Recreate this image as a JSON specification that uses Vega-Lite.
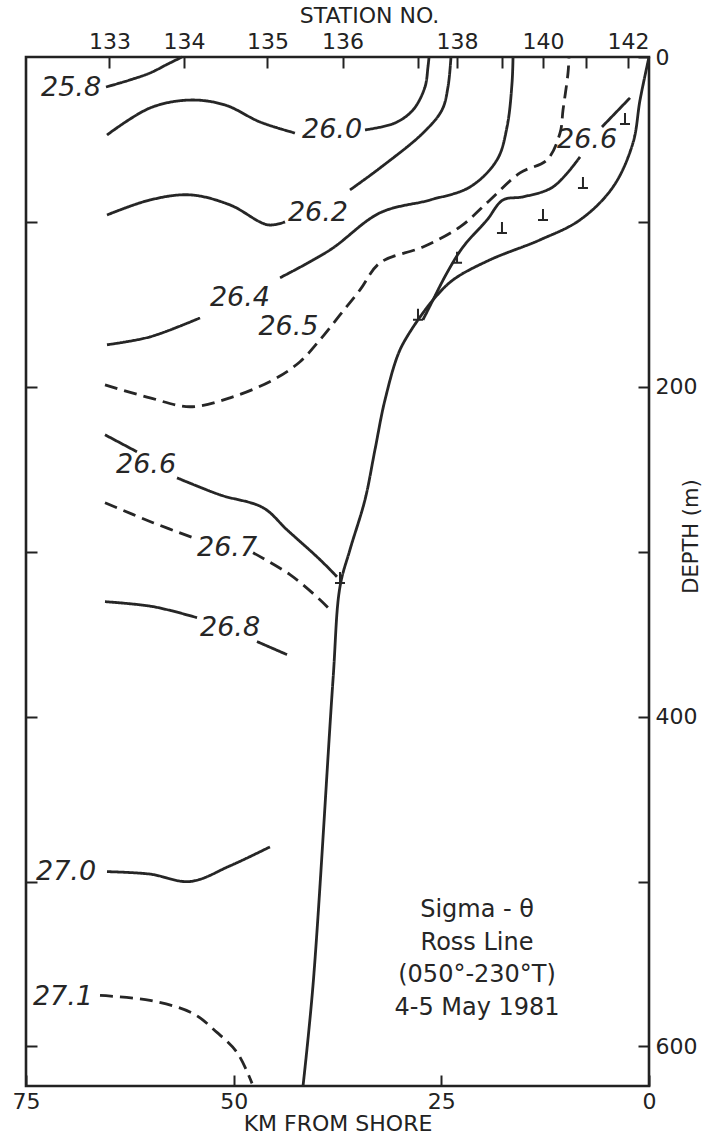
{
  "$schema": "https://vega.github.io/schema/vega-lite/v6.json",
  "width": 623,
  "height": 1029,
  "autosize": {"type": "none"},
  "padding": {"left": 26, "top": 57, "right": 56, "bottom": 50},
  "background": "white",
  "config": {
    "view": {"stroke": "#222", "strokeWidth": 2.6},
    "font": "DejaVu Sans"
  },
  "datasets": {
    "lines": [
      {"series": "25.8", "kind": "major", "i": 1, "km": 65.37, "depth": 18.2},
      {"series": "25.8", "kind": "major", "i": 2, "km": 62.48, "depth": 13.9},
      {"series": "25.8", "kind": "major", "i": 3, "km": 60.07, "depth": 9.7},
      {"series": "25.8", "kind": "major", "i": 4, "km": 57.91, "depth": 4.2},
      {"series": "25.8", "kind": "major", "i": 5, "km": 56.22, "depth": 0},
      {"series": "26.0a", "kind": "major", "i": 1, "km": 65.25, "depth": 47.3},
      {"series": "26.0a", "kind": "major", "i": 2, "km": 60.07, "depth": 30.9},
      {"series": "26.0a", "kind": "major", "i": 3, "km": 55.26, "depth": 26.1},
      {"series": "26.0a", "kind": "major", "i": 4, "km": 51.04, "depth": 29.1},
      {"series": "26.0a", "kind": "major", "i": 5, "km": 46.83, "depth": 39.4},
      {"series": "26.0a", "kind": "major", "i": 6, "km": 42.62, "depth": 46.1},
      {"series": "26.0b", "kind": "major", "i": 1, "km": 34.19, "depth": 44.2},
      {"series": "26.0b", "kind": "major", "i": 2, "km": 30.58, "depth": 40.0},
      {"series": "26.0b", "kind": "major", "i": 3, "km": 28.41, "depth": 32.1},
      {"series": "26.0b", "kind": "major", "i": 4, "km": 26.97, "depth": 18.2},
      {"series": "26.0b", "kind": "major", "i": 5, "km": 26.61, "depth": 6.1},
      {"series": "26.0b", "kind": "major", "i": 6, "km": 26.48, "depth": 0},
      {"series": "26.2a", "kind": "major", "i": 1, "km": 65.25, "depth": 95.8},
      {"series": "26.2a", "kind": "major", "i": 2, "km": 60.07, "depth": 86.7},
      {"series": "26.2a", "kind": "major", "i": 3, "km": 55.26, "depth": 83.6},
      {"series": "26.2a", "kind": "major", "i": 4, "km": 50.44, "depth": 89.7},
      {"series": "26.2a", "kind": "major", "i": 5, "km": 45.87, "depth": 101.8},
      {"series": "26.2a", "kind": "major", "i": 6, "km": 43.82, "depth": 100.0},
      {"series": "26.2b", "kind": "major", "i": 1, "km": 36.0, "depth": 80.6},
      {"series": "26.2b", "kind": "major", "i": 2, "km": 32.38, "depth": 67.3},
      {"series": "26.2b", "kind": "major", "i": 3, "km": 27.21, "depth": 46.1},
      {"series": "26.2b", "kind": "major", "i": 4, "km": 24.92, "depth": 32.1},
      {"series": "26.2b", "kind": "major", "i": 5, "km": 24.2, "depth": 18.2},
      {"series": "26.2b", "kind": "major", "i": 6, "km": 23.84, "depth": 0},
      {"series": "26.4a", "kind": "major", "i": 1, "km": 65.25, "depth": 174.5},
      {"series": "26.4a", "kind": "major", "i": 2, "km": 60.07, "depth": 169.7},
      {"series": "26.4a", "kind": "major", "i": 3, "km": 54.05, "depth": 158.2},
      {"series": "26.4b", "kind": "major", "i": 1, "km": 44.42, "depth": 133.9},
      {"series": "26.4b", "kind": "major", "i": 2, "km": 38.4, "depth": 117.0},
      {"series": "26.4b", "kind": "major", "i": 3, "km": 32.38, "depth": 94.5},
      {"series": "26.4b", "kind": "major", "i": 4, "km": 26.36, "depth": 86.7},
      {"series": "26.4b", "kind": "major", "i": 5, "km": 21.55, "depth": 78.8},
      {"series": "26.4b", "kind": "major", "i": 6, "km": 18.3, "depth": 62.4},
      {"series": "26.4b", "kind": "major", "i": 7, "km": 17.09, "depth": 42.4},
      {"series": "26.4b", "kind": "major", "i": 8, "km": 16.49, "depth": 15.8},
      {"series": "26.4b", "kind": "major", "i": 9, "km": 16.37, "depth": 0},
      {"series": "26.5", "kind": "intermediate", "i": 1, "km": 65.49, "depth": 198.8},
      {"series": "26.5", "kind": "intermediate", "i": 2, "km": 60.07, "depth": 206.7},
      {"series": "26.5", "kind": "intermediate", "i": 3, "km": 55.26, "depth": 212.1},
      {"series": "26.5", "kind": "intermediate", "i": 4, "km": 50.44, "depth": 206.7},
      {"series": "26.5", "kind": "intermediate", "i": 5, "km": 45.26, "depth": 195.8},
      {"series": "26.5", "kind": "intermediate", "i": 6, "km": 42.01, "depth": 184.8},
      {"series": "26.5", "kind": "intermediate", "i": 7, "km": 39.61, "depth": 171.5},
      {"series": "26.5", "kind": "intermediate", "i": 8, "km": 37.2, "depth": 156.4},
      {"series": "26.5", "kind": "intermediate", "i": 9, "km": 34.79, "depth": 141.2},
      {"series": "26.5", "kind": "intermediate", "i": 10, "km": 32.38, "depth": 124.8},
      {"series": "26.5", "kind": "intermediate", "i": 11, "km": 27.21, "depth": 115.2},
      {"series": "26.5", "kind": "intermediate", "i": 12, "km": 22.75, "depth": 103.0},
      {"series": "26.5", "kind": "intermediate", "i": 13, "km": 19.14, "depth": 86.7},
      {"series": "26.5", "kind": "intermediate", "i": 14, "km": 15.53, "depth": 70.3},
      {"series": "26.5", "kind": "intermediate", "i": 15, "km": 12.28, "depth": 62.4},
      {"series": "26.5", "kind": "intermediate", "i": 16, "km": 10.71, "depth": 46.1},
      {"series": "26.5", "kind": "intermediate", "i": 17, "km": 10.35, "depth": 32.1},
      {"series": "26.5", "kind": "intermediate", "i": 18, "km": 9.75, "depth": 9.7},
      {"series": "26.5", "kind": "intermediate", "i": 19, "km": 9.63, "depth": 0},
      {"series": "26.6ra", "kind": "major", "i": 1, "km": 2.29, "depth": 24.8},
      {"series": "26.6ra", "kind": "major", "i": 2, "km": 5.66, "depth": 42.4},
      {"series": "26.6rb", "kind": "major", "i": 1, "km": 8.31, "depth": 60.6},
      {"series": "26.6rb", "kind": "major", "i": 2, "km": 11.56, "depth": 78.8},
      {"series": "26.6rb", "kind": "major", "i": 3, "km": 15.17, "depth": 84.8},
      {"series": "26.6rb", "kind": "major", "i": 4, "km": 17.58, "depth": 86.7},
      {"series": "26.6rb", "kind": "major", "i": 5, "km": 19.5, "depth": 98.8},
      {"series": "26.6rb", "kind": "major", "i": 6, "km": 22.39, "depth": 115.2},
      {"series": "26.6rb", "kind": "major", "i": 7, "km": 24.32, "depth": 130.9},
      {"series": "26.6rb", "kind": "major", "i": 8, "km": 26.0, "depth": 147.3},
      {"series": "26.6rb", "kind": "major", "i": 9, "km": 27.21, "depth": 159.4},
      {"series": "26.6la", "kind": "major", "i": 1, "km": 65.49, "depth": 229.1},
      {"series": "26.6la", "kind": "major", "i": 2, "km": 61.64, "depth": 239.4},
      {"series": "26.6lb", "kind": "major", "i": 1, "km": 56.82, "depth": 255.2},
      {"series": "26.6lb", "kind": "major", "i": 2, "km": 51.65, "depth": 265.5},
      {"series": "26.6lb", "kind": "major", "i": 3, "km": 46.47, "depth": 273.3},
      {"series": "26.6lb", "kind": "major", "i": 4, "km": 43.58, "depth": 286.7},
      {"series": "26.6lb", "kind": "major", "i": 5, "km": 39.61, "depth": 304.8},
      {"series": "26.6lb", "kind": "major", "i": 6, "km": 37.56, "depth": 315.2},
      {"series": "26.7a", "kind": "intermediate", "i": 1, "km": 65.49, "depth": 270.3},
      {"series": "26.7a", "kind": "intermediate", "i": 2, "km": 59.71, "depth": 282.4},
      {"series": "26.7a", "kind": "intermediate", "i": 3, "km": 54.9, "depth": 291.5},
      {"series": "26.7b", "kind": "intermediate", "i": 1, "km": 47.67, "depth": 300.6},
      {"series": "26.7b", "kind": "intermediate", "i": 2, "km": 43.22, "depth": 313.9},
      {"series": "26.7b", "kind": "intermediate", "i": 3, "km": 39.61, "depth": 329.1},
      {"series": "26.7b", "kind": "intermediate", "i": 4, "km": 38.4, "depth": 335.2},
      {"series": "26.8a", "kind": "major", "i": 1, "km": 65.49, "depth": 330.3},
      {"series": "26.8a", "kind": "major", "i": 2, "km": 59.71, "depth": 333.3},
      {"series": "26.8a", "kind": "major", "i": 3, "km": 54.41, "depth": 340.0},
      {"series": "26.8b", "kind": "major", "i": 1, "km": 47.19, "depth": 354.5},
      {"series": "26.8b", "kind": "major", "i": 2, "km": 43.58, "depth": 362.4},
      {"series": "27.0", "kind": "major", "i": 1, "km": 65.25, "depth": 494.0},
      {"series": "27.0", "kind": "major", "i": 2, "km": 60.07, "depth": 495.5},
      {"series": "27.0", "kind": "major", "i": 3, "km": 55.26, "depth": 500.0},
      {"series": "27.0", "kind": "major", "i": 4, "km": 50.44, "depth": 490.5},
      {"series": "27.0", "kind": "major", "i": 5, "km": 45.63, "depth": 479.0},
      {"series": "27.1", "kind": "intermediate", "i": 1, "km": 66.09, "depth": 569.1},
      {"series": "27.1", "kind": "intermediate", "i": 2, "km": 60.07, "depth": 572.1},
      {"series": "27.1", "kind": "intermediate", "i": 3, "km": 54.9, "depth": 580.0},
      {"series": "27.1", "kind": "intermediate", "i": 4, "km": 52.01, "depth": 591.5},
      {"series": "27.1", "kind": "intermediate", "i": 5, "km": 49.6, "depth": 603.6},
      {"series": "27.1", "kind": "intermediate", "i": 6, "km": 47.79, "depth": 622.4},
      {"series": "cast", "kind": "cast depth", "i": 1, "km": 0, "depth": 0},
      {"series": "cast", "kind": "cast depth", "i": 2, "km": 1.08, "depth": 26.1},
      {"series": "cast", "kind": "cast depth", "i": 3, "km": 1.93, "depth": 52.1},
      {"series": "cast", "kind": "cast depth", "i": 4, "km": 4.33, "depth": 78.8},
      {"series": "cast", "kind": "cast depth", "i": 5, "km": 8.31, "depth": 98.8},
      {"series": "cast", "kind": "cast depth", "i": 6, "km": 13.12, "depth": 110.9},
      {"series": "cast", "kind": "cast depth", "i": 7, "km": 19.14, "depth": 123.0},
      {"series": "cast", "kind": "cast depth", "i": 8, "km": 23.6, "depth": 135.2},
      {"series": "cast", "kind": "cast depth", "i": 9, "km": 26.0, "depth": 147.3},
      {"series": "cast", "kind": "cast depth", "i": 10, "km": 27.81, "depth": 159.4},
      {"series": "bottom", "kind": "bottom", "i": 1, "km": 27.81, "depth": 159.4},
      {"series": "bottom", "kind": "bottom", "i": 2, "km": 29.98, "depth": 177.6},
      {"series": "bottom", "kind": "bottom", "i": 3, "km": 31.78, "depth": 207.9},
      {"series": "bottom", "kind": "bottom", "i": 4, "km": 32.99, "depth": 238.2},
      {"series": "bottom", "kind": "bottom", "i": 5, "km": 34.19, "depth": 268.5},
      {"series": "bottom", "kind": "bottom", "i": 6, "km": 36.0, "depth": 298.8},
      {"series": "bottom", "kind": "bottom", "i": 7, "km": 37.2, "depth": 321.2},
      {"series": "bottom", "kind": "bottom", "i": 8, "km": 38.04, "depth": 377.6},
      {"series": "bottom", "kind": "bottom", "i": 9, "km": 40.45, "depth": 563.0},
      {"series": "bottom", "kind": "bottom", "i": 10, "km": 41.65, "depth": 624}
    ],
    "labels": [
      {"label": "25.8", "km": 69.58, "depth": 18.8},
      {"label": "26.0", "km": 38.16, "depth": 44.2},
      {"label": "26.2", "km": 39.85, "depth": 94.5},
      {"label": "26.4", "km": 49.24, "depth": 146.1},
      {"label": "26.5", "km": 43.4, "depth": 163.5},
      {"label": "26.6", "km": 7.46, "depth": 50.3},
      {"label": "26.6", "km": 60.55, "depth": 247.3},
      {"label": "26.7", "km": 50.8, "depth": 297.6},
      {"label": "26.8", "km": 50.44, "depth": 346.1},
      {"label": "27.0", "km": 70.18, "depth": 494.0},
      {"label": "27.1", "km": 70.55, "depth": 570.3}
    ],
    "casts": [
      {"station": 142, "km": 2.89, "depth": 40.6},
      {"station": 141, "km": 7.95, "depth": 79.4},
      {"station": 140, "km": 12.76, "depth": 98.8},
      {"station": 139, "km": 17.7, "depth": 106.7},
      {"station": 138, "km": 23.11, "depth": 124.8},
      {"station": 137, "km": 27.81, "depth": 159.4},
      {"station": 136, "km": 37.2, "depth": 319.0}
    ],
    "notes": [
      {"text": "Sigma - θ", "km": 20.7, "depth": 517.0},
      {"text": "Ross Line", "km": 20.7, "depth": 537.0},
      {"text": "(050°-230°T)", "km": 20.7, "depth": 556.4},
      {"text": "4-5 May 1981", "km": 20.7, "depth": 576.4}
    ]
  },
  "resolve": {"axis": {"x": "independent", "y": "independent"}},
  "layer": [
    {
      "data": {"name": "lines"},
      "mark": {"type": "line", "interpolate": "catmull-rom", "color": "#262626", "strokeCap": "butt"},
      "encoding": {
        "x": {"field": "km", "type": "quantitative", "scale": {"domain": [75, 0], "nice": false, "zero": false},
          "axis": {"orient": "bottom", "values": [75, 50, 25, 0], "title": "KM FROM SHORE", "grid": false, "domain": false,
            "tickSize": -11, "tickWidth": 2, "tickColor": "#222", "labelPadding": 16, "labelFlush": false, "labelOverlap": false,
            "labelFont": "DejaVu Sans", "labelFontSize": 22, "labelColor": "#222",
            "titleFont": "DejaVu Sans", "titleFontSize": 22, "titleFontWeight": "normal", "titleColor": "#222",
            "titleY": 37, "titleBaseline": "middle"}},
        "y": {"field": "depth", "type": "quantitative", "scale": {"domain": [0, 624], "reverse": true, "nice": false, "zero": false},
          "axis": {"orient": "right", "values": [0, 100, 200, 300, 400, 500, 600], "labelExpr": "datum.value % 200 == 0 ? datum.label : ''",
            "title": "DEPTH (m)", "grid": false, "domain": false, "tickSize": -11, "tickWidth": 2, "tickColor": "#222",
            "labelPadding": 17, "labelFlush": false, "labelOverlap": false, "labelFont": "DejaVu Sans", "labelFontSize": 22, "labelColor": "#222",
            "titleFont": "DejaVu Sans", "titleFontSize": 21, "titleFontWeight": "normal", "titleColor": "#222",
            "titleAngle": 270, "titleX": 42, "titleY": 479, "titleAlign": "center", "titleBaseline": "middle"}},
        "detail": {"field": "series", "type": "nominal"},
        "order": {"field": "i", "type": "quantitative"},
        "strokeDash": {"field": "kind", "type": "nominal", "scale": {"domain": ["major", "intermediate", "cast depth", "bottom"], "range": [[1, 0], [13, 7], [1, 0], [1, 0]]}, "legend": null},
        "strokeWidth": {"field": "kind", "type": "nominal", "scale": {"domain": ["major", "intermediate", "cast depth", "bottom"], "range": [2.8, 2.8, 1.7, 2.4]}, "legend": null}
      }
    },
    {
      "data": {"name": "labels"},
      "mark": {"type": "text", "font": "DejaVu Sans", "fontStyle": "italic", "fontSize": 27, "color": "#262626", "align": "center", "baseline": "middle"},
      "encoding": {
        "x": {"field": "km", "type": "quantitative",
          "axis": {"orient": "top", "values": [64.95, 55.98, 45.93, 36.89, 27.81, 23.11, 17.7, 12.76, 7.58, 2.53],
            "labelExpr": "datum.value > 60 ? '133' : datum.value > 50 ? '134' : datum.value > 40 ? '135' : datum.value > 30 ? '136' : datum.value > 25 ? '' : datum.value > 20 ? '138' : datum.value > 15 ? '' : datum.value > 10 ? '140' : datum.value > 5 ? '' : '142'",
            "title": "STATION NO.", "grid": false, "domain": false, "tickSize": -11, "tickWidth": 2, "tickColor": "#222",
            "labelPadding": 15, "labelFlush": false, "labelOverlap": false, "labelFont": "DejaVu Sans", "labelFontSize": 22, "labelColor": "#222",
            "titleFont": "DejaVu Sans", "titleFontSize": 22, "titleFontWeight": "normal", "titleColor": "#222",
            "titleX": 343, "titleY": -42, "titleBaseline": "middle"}},
        "y": {"field": "depth", "type": "quantitative",
          "axis": {"orient": "left", "values": [100, 200, 300, 400, 500, 600], "labels": false, "title": null, "grid": false, "domain": false,
            "tickSize": -11, "tickWidth": 2, "tickColor": "#222"}},
        "text": {"field": "label", "type": "nominal"}
      }
    },
    {
      "data": {"name": "casts"},
      "mark": {"type": "point", "shape": "M -1 0 L 1 0 M 0 0 L 0 -2.2", "size": 100, "filled": false, "stroke": "#262626", "strokeWidth": 2, "opacity": 1},
      "encoding": {
        "x": {"field": "km", "type": "quantitative", "axis": null},
        "y": {"field": "depth", "type": "quantitative", "axis": null}
      }
    },
    {
      "data": {"name": "notes"},
      "mark": {"type": "text", "font": "DejaVu Sans", "fontSize": 24, "color": "#262626", "align": "center", "baseline": "middle"},
      "encoding": {
        "x": {"field": "km", "type": "quantitative", "axis": null},
        "y": {"field": "depth", "type": "quantitative", "axis": null},
        "text": {"field": "text", "type": "nominal"}
      }
    }
  ]
}
